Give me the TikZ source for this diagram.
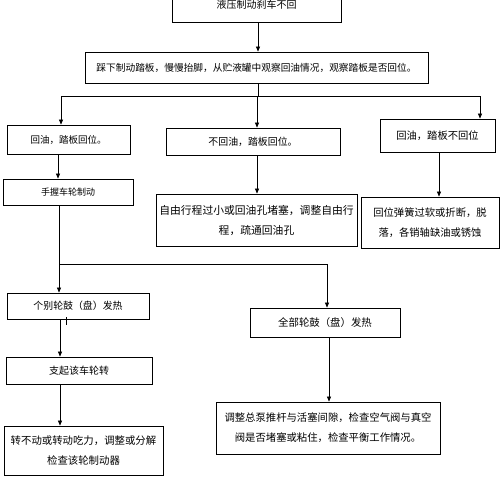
\documentclass[tikz,border=0pt]{standalone}
\usepackage{fontspec}
\setmainfont{Noto Sans CJK SC}
\usetikzlibrary{arrows.meta}
\begin{document}
\begin{tikzpicture}[x=1pt,y=-1pt,
  box/.style={draw=black,line width=0.8pt,inner sep=0pt,align=center,text=black},
  ln/.style={draw=black,line width=0.6pt},
  arr/.style={ln,-{Triangle[length=5pt,width=4pt]}},
  fs/.style={font=\fontsize{#1}{20}\selectfont}]
\useasboundingbox (0,0) rectangle (500,480);
\node[box,fs=10,minimum width=169pt,minimum height=35pt] (b1) at (256.5,5) {液压制动刹车不回};
\node[box,fs=9.7,minimum width=343pt,minimum height=31pt] (b2) at (256.5,67.5) {踩下制动踏板，慢慢抬脚，从贮液罐中观察回油情况，观察踏板是否回位。};
\node[box,fs=9.5,minimum width=123pt,minimum height=29pt] (b3) at (68.5,139.5) {回油，踏板回位。};
\node[box,fs=9.9,minimum width=174pt,minimum height=27pt] (b4) at (253,141.5) {不回油，踏板回位。};
\node[box,fs=10.3,minimum width=115pt,minimum height=33pt] (b5) at (437.5,135.5) {回油，踏板不回位};
\node[box,fs=9,minimum width=130pt,minimum height=26pt] (b6) at (68,192) {手握车轮制动};
\node[box,fs=10.8,minimum width=201pt,minimum height=52pt] (b7) at (256.5,220) {自由行程过小或回油孔堵塞，调整自由行\\程，疏通回油孔};
\node[box,fs=10.3,minimum width=138pt,minimum height=51pt] (b8) at (430,222.5) {回位弹簧过软或折断，脱\\落，各销轴缺油或锈蚀};
\node[box,fs=9.9,minimum width=142pt,minimum height=26pt] (b9) at (78,306) {个别轮鼓（盘）发热};
\node[box,fs=10.4,minimum width=150pt,minimum height=29pt] (b10) at (325,322.5) {全部轮鼓（盘）发热};
\node[box,fs=10,minimum width=146pt,minimum height=27pt] (b11) at (79,370.5) {支起该车轮转};
\node[box,fs=10.4,minimum width=159pt,minimum height=49pt] (b12) at (83.5,450.5) {转不动或转动吃力，调整或分解\\检查该轮制动器};
\node[box,fs=10.35,minimum width=224pt,minimum height=52pt] (b13) at (328,428) {调整总泵推杆与活塞间隙，检查空气阀与真空\\阀是否堵塞或粘住，检查平衡工作情况。};
% x positions of connectors
\coordinate (xa) at (258,0);
\coordinate (xl) at (61,0);
\coordinate (xm) at (257,0);
\coordinate (xr) at (480,0);
\coordinate (x3) at (58,0);
\coordinate (x5) at (439,0);
\coordinate (x6) at (59,0);
\coordinate (x9) at (60,0);
\coordinate (x10) at (327,0);
\coordinate (x13) at (329,0);
\coordinate (j1) at (258,96);
\coordinate (j1l) at (61,96);
\coordinate (j1r) at (480,96);
\coordinate (j2) at (59,264);
\coordinate (j2r) at (327,264);
\coordinate (t1) at (66,317);
\coordinate (t2) at (66,325);
% connectors
\draw[arr] (b1.south -| xa) -- (b2.north -| xa);
\draw[ln] (b2.south -| xa) -- (j1);
\draw[ln] (j1l) -- (j1r);
\draw[arr] (j1l) -- (b3.north -| xl);
\draw[arr] (j1 -| xm) -- (b4.north -| xm);
\draw[arr] (j1r) -- (b5.north -| xr);
\draw[arr] (b3.south -| x3) -- (b6.north -| x3);
\draw[arr] (b4.south -| xm) -- (b7.north -| xm);
\draw[arr] (b5.south -| x5) -- (b8.north -| x5);
\draw[ln] (b6.south -| x6) -- (j2) -- (j2r);
\draw[arr] (j2) -- (b9.north -| x6);
\draw[arr] (j2r) -- (b10.north -| x10);
\draw[arr] (b9.south -| x9) -- (b11.north -| x9);
\draw[arr] (b11.south -| x9) -- (b12.north -| x9);
\draw[arr] (b10.south -| x13) -- (b13.north -| x13);
\draw[ln] (t1) -- (t2);
\end{tikzpicture}
\end{document}
